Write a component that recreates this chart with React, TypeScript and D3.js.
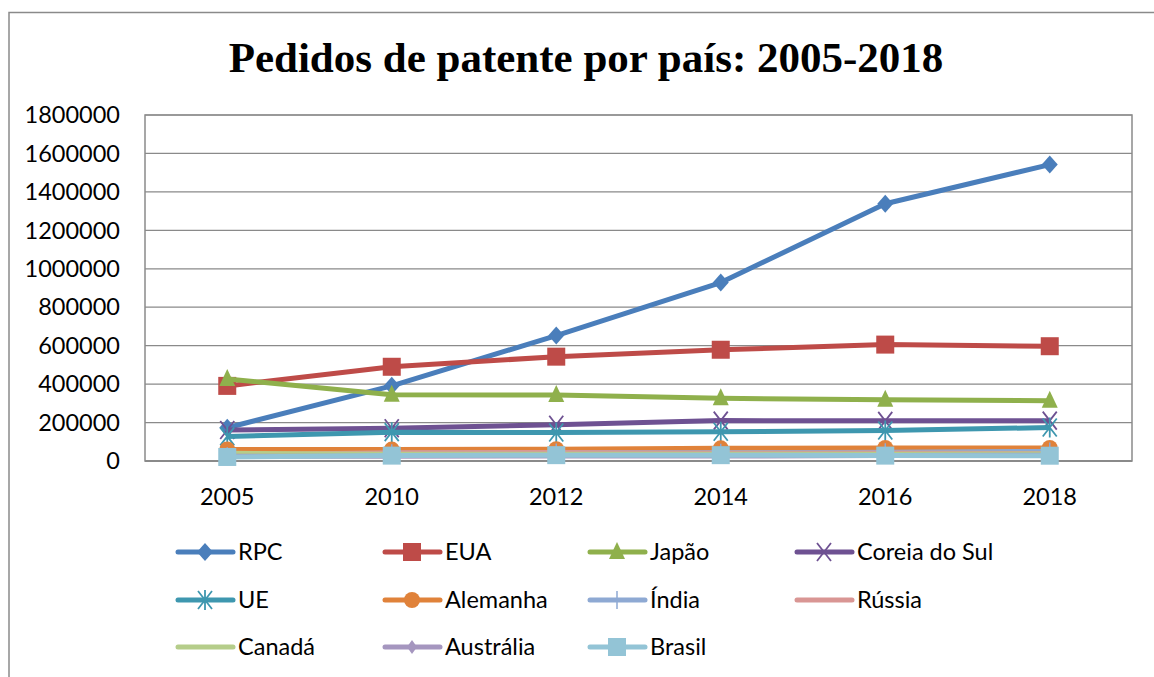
import React from "react";
import * as d3 from "d3";

const years = ["2005", "2010", "2012", "2014", "2016", "2018"];
const yTicks = [0, 200000, 400000, 600000, 800000, 1000000, 1200000, 1400000, 1600000, 1800000];

const rpc = [173000, 391000, 652777, 928177, 1338503, 1542002];
const eua = [390733, 490226, 542815, 578802, 605571, 597141];
const japao = [427078, 344598, 342796, 325989, 318381, 313567];
const coreia = [160921, 170101, 188915, 210292, 208830, 209992];
const ue = [128000, 150000, 148000, 152000, 159000, 174000];
const alemanha = [60222, 59245, 61340, 65965, 67899, 67898];
const india = [24505, 39762, 43955, 42854, 45057, 50055];
const russia = [32254, 42500, 44211, 40308, 41587, 37957];
const canada = [39888, 35449, 35242, 35481, 34745, 36161];
const australia = [25000, 24887, 26358, 25956, 28394, 29957];
const brasil = [21000, 28000, 30435, 30342, 28010, 27551];

const series = [
  { name: "RPC", values: rpc, color: "#4A7EBB", marker: "diamond" },
  { name: "EUA", values: eua, color: "#BE4B48", marker: "square" },
  { name: "Japão", values: japao, color: "#8FB04C", marker: "triangle" },
  { name: "Coreia do Sul", values: coreia, color: "#6E5192", marker: "x" },
  { name: "UE", values: ue, color: "#3E97AF", marker: "star" },
  { name: "Alemanha", values: alemanha, color: "#E0823A", marker: "circle" },
  { name: "Índia", values: india, color: "#8EA9D3", marker: "plus" },
  { name: "Rússia", values: russia, color: "#D99694", marker: "none" },
  { name: "Canadá", values: canada, color: "#B5CD8A", marker: "none" },
  { name: "Austrália", values: australia, color: "#A596BF", marker: "smalldiamond" },
  { name: "Brasil", values: brasil, color: "#93C4D6", marker: "square" },
];

const legendCols = [178, 385, 590, 797];
const legendRows = [552, 600, 647];

function Marker({ type, x, y, color }: { type: string; x: number; y: number; color: string }) {
  switch (type) {
    case "diamond":
      return <path d={`M${x},${y - 9}L${x + 8},${y}L${x},${y + 9}L${x - 8},${y}Z`} fill={color} />;
    case "smalldiamond":
      return <path d={`M${x},${y - 7}L${x + 5},${y}L${x},${y + 7}L${x - 5},${y}Z`} fill={color} />;
    case "square":
      return <rect x={x - 9} y={y - 9} width={18} height={18} fill={color} />;
    case "triangle":
      return <path d={`M${x},${y - 10}L${x + 8},${y + 7}L${x - 8},${y + 7}Z`} fill={color} />;
    case "circle":
      return <circle cx={x} cy={y} r={8} fill={color} />;
    case "x":
      return (
        <path d={`M${x - 7},${y - 9}L${x + 7},${y + 9}M${x + 7},${y - 9}L${x - 7},${y + 9}`} stroke={color} strokeWidth={1.8} />
      );
    case "star":
      return (
        <path
          d={`M${x - 7},${y - 9}L${x + 7},${y + 9}M${x + 7},${y - 9}L${x - 7},${y + 9}M${x},${y - 10}L${x},${y + 10}`}
          stroke={color}
          strokeWidth={1.8}
        />
      );
    case "plus":
      return <path d={`M${x},${y - 9}L${x},${y + 9}M${x - 8},${y}L${x + 8},${y}`} stroke={color} strokeWidth={1.5} />;
    default:
      return null;
  }
}

export default function App() {
  const W = 1154, H = 677;
  const left = 145, right = 1132, top = 115, bottom = 461;
  const x = d3.scalePoint<string>().domain(years).range([left, right]).padding(0.5);
  const y = d3.scaleLinear().domain([0, 1800000]).range([bottom, top]);
  const line = d3
    .line<number>()
    .x((_, i) => x(years[i]) as number)
    .y((d) => y(d));
  const font = "Lato, 'Liberation Sans', sans-serif";
  const fs = 23.5;

  return (
    <svg width={W} height={H} style={{ position: "absolute", left: 0, top: 0, background: "#fff" }}>
      <rect x={9} y={12.5} width={1200} height={700} fill="#fff" stroke="#8a8a8a" strokeWidth={1.5} />
      <text x={586} y={72} textAnchor="middle" fontFamily="'Liberation Serif', 'Times New Roman', serif" fontWeight="bold" fontSize={43} fill="#000">
        Pedidos de patente por país: 2005-2018
      </text>
      {yTicks.map((t) => (
        <g key={t}>
          <line x1={left} x2={right} y1={y(t)} y2={y(t)} stroke="#8a8a8a" strokeWidth={1.2} />
          <text x={120} y={y(t)} dy="0.35em" textAnchor="end" fontFamily={font} fontSize={fs} fill="#000">
            {t}
          </text>
        </g>
      ))}
      <rect x={left} y={top} width={right - left} height={bottom - top} fill="none" stroke="#8a8a8a" strokeWidth={1.5} />
      <line x1={left} x2={right} y1={bottom} y2={bottom} stroke="#8a8a8a" strokeWidth={2} />
      {years.map((yr) => (
        <text key={yr} x={x(yr)} y={497} dy="0.35em" textAnchor="middle" fontFamily={font} fontSize={fs} fill="#000">
          {yr}
        </text>
      ))}
      {series.map((s) => (
        <g key={s.name}>
          <path d={line(s.values) || ""} fill="none" stroke={s.color} strokeWidth={5} strokeLinejoin="round" />
          {s.values.map((v, i) => (
            <Marker key={i} type={s.marker} x={x(years[i]) as number} y={y(v)} color={s.color} />
          ))}
        </g>
      ))}
      {series.map((s, i) => {
        const lx = legendCols[i % 4];
        const ly = legendRows[Math.floor(i / 4)];
        return (
          <g key={"lg" + s.name}>
            <line x1={lx} x2={lx + 55} y1={ly} y2={ly} stroke={s.color} strokeWidth={5} strokeLinecap="round" />
            <Marker type={s.marker} x={lx + 27} y={ly} color={s.color} />
            <text x={lx + 60} y={ly} dy="0.35em" fontFamily={font} fontSize={fs} fill="#000">
              {s.name}
            </text>
          </g>
        );
      })}
    </svg>
  );
}
